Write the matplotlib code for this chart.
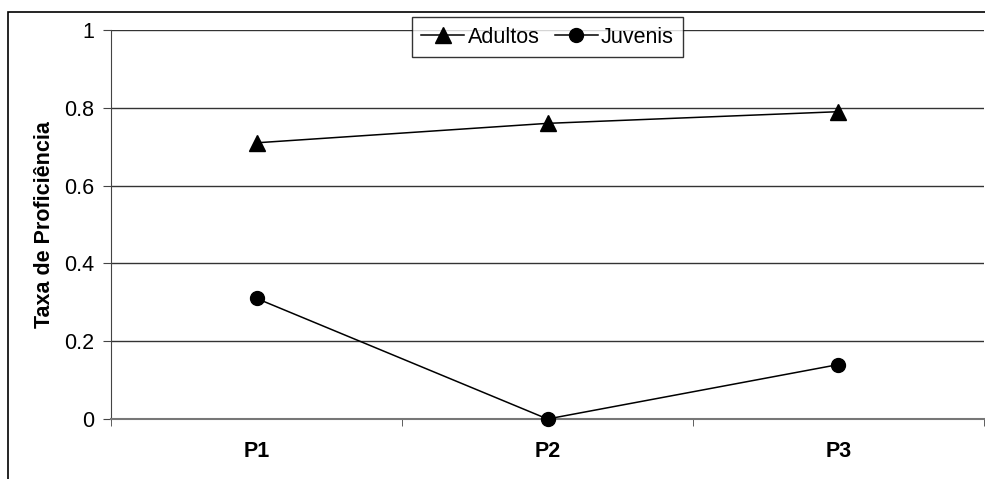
import matplotlib.pyplot as plt
from matplotlib.patches import Rectangle

plt.rcParams['font.family'] = ['Liberation Sans', 'DejaVu Sans']

categories = ["P1", "P2", "P3"]
adultos = [0.71, 0.76, 0.79]
juvenis = [0.31, 0.0, 0.14]
yticks = [0, 0.2, 0.4, 0.6, 0.8, 1]
ytick_labels = ["0", "0.2", "0.4", "0.6", "0.8", "1"]

W, H = 985, 479
fs = 15.5
fig = plt.figure(figsize=(W / 100, H / 100), dpi=100)
ax = fig.add_axes([111 / W, 1 - 419 / H, (984 - 111) / W, (419 - 30) / H])

# outer chart frame (runs off the right and bottom edges)
fig.patches.append(Rectangle((8 / W, -0.1), 1.2, 1 - 12 / H + 0.1,
                             transform=fig.transFigure, fill=False,
                             edgecolor='black', linewidth=1.2))

x = range(len(categories))
ax.plot(x, adultos, color='black', linewidth=1.1, marker='^', markersize=11,
        label='Adultos', clip_on=False, zorder=3)
ax.plot(x, juvenis, color='black', linewidth=1.1, marker='o', markersize=10,
        label='Juvenis', clip_on=False, zorder=3)

ax.set_xlim(-0.5, len(categories) - 0.5)
ax.set_ylim(0, 1)
ax.set_yticks(yticks)
ax.set_yticklabels(ytick_labels, fontsize=fs)
ax.set_xticks(list(x))
ax.set_xticklabels(categories, fontsize=fs, fontweight='bold')
ax.tick_params(axis='x', length=0, pad=16)
ax.set_xticks([-0.5, 0.5, 1.5, 2.5], minor=True)
ax.tick_params(axis='x', which='minor', length=5, direction='out', color='#444444')
ax.tick_params(axis='y', length=6, direction='out', color='#444444', pad=6)

for y in yticks[1:]:
    ax.axhline(y, color='#333333', linewidth=1, zorder=1)

for s in ['top', 'right']:
    ax.spines[s].set_visible(False)
ax.spines['left'].set_color('#444444')
ax.spines['bottom'].set_color('#777777')
ax.spines['bottom'].set_linewidth(1.5)

ax.set_ylabel('Taxa de Proficiência', fontsize=fs, fontweight='bold')
ax.yaxis.set_label_coords(-56 / 873, 0.5)

leg = ax.legend(loc='upper center', bbox_to_anchor=(0.5, 1 + 13 / 389), ncol=2,
                fontsize=fs, frameon=True, fancybox=False, handlelength=2.0,
                handletextpad=0.15, columnspacing=0.7, borderpad=0.45,
                borderaxespad=0)
leg.get_frame().set_edgecolor('black')
leg.get_frame().set_linewidth(1)
leg.set_zorder(5)

fig.savefig('out.png', dpi=100)
